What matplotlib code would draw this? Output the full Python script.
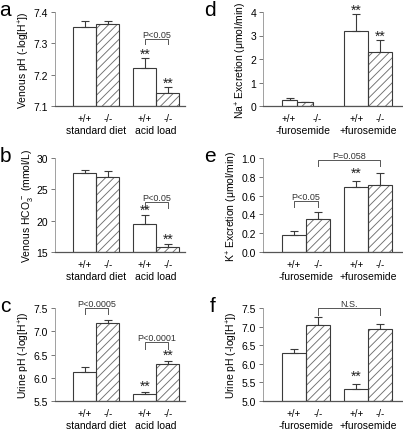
import numpy as np
import matplotlib
matplotlib.use("Agg")
import matplotlib.pyplot as plt

plt.rcParams["font.family"] = ["Liberation Sans", "DejaVu Sans"]
plt.rcParams["mathtext.fontset"] = "custom"
plt.rcParams["mathtext.rm"] = "Liberation Sans"
plt.rcParams["mathtext.it"] = "Liberation Sans:italic"
plt.rcParams["hatch.linewidth"] = 0.65

genotypes = ["+/+", "-/-", "+/+", "-/-"]
groups_diet = ["standard diet", "acid load"]
groups_furo = ["-furosemide", "+furosemide"]

# panel values: mean and upper error (SEM)
a_vals = [7.352, 7.362, 7.22, 7.14]
a_err = [0.019, 0.009, 0.032, 0.02]
b_vals = [27.65, 26.95, 19.5, 15.8]
b_err = [0.5, 0.9, 1.35, 0.5]
c_vals = [6.12, 7.18, 5.66, 6.30]
c_err = [0.11, 0.07, 0.03, 0.06]
d_vals = [0.25, 0.15, 3.21, 2.31]
d_err = [0.09, 0.03, 0.69, 0.48]
e_vals = [0.177, 0.348, 0.69, 0.71]
e_err = [0.05, 0.078, 0.065, 0.13]
f_vals = [6.30, 7.04, 5.33, 6.93]
f_err = [0.11, 0.21, 0.13, 0.15]

W, H = 403, 431
fig = plt.figure(figsize=(W / 100, H / 100), dpi=100)

def add_ax(x0, x1, y0, y1):
    return fig.add_axes([x0 / W, 1 - y1 / H, (x1 - x0) / W, (y1 - y0) / H])

pos = np.array([1.3, 2.3, 3.9, 4.9])
edge = "#3a3a3a"

def draw_panel(ax, vals, errs, ylim, yticks, fmt, ylabel, letter, groups,
               xmax, widths=None, centers=None, label_pos=None):
    base = ylim[0]
    xs = pos if centers is None else np.array(centers)
    ws = [1.0] * 4 if widths is None else widths
    lp = xs if label_pos is None else label_pos
    for i in range(4):
        h = vals[i] - base
        if i % 2 == 1:
            ax.bar(xs[i], h, ws[i], bottom=base, color="white", hatch="////",
                   edgecolor="#707070", linewidth=0, zorder=2)
        ax.bar(xs[i], h, ws[i], bottom=base, fill=False, edgecolor=edge,
               linewidth=0.8, zorder=3)
        ax.errorbar(xs[i], vals[i], yerr=[[0], [errs[i]]], fmt="none",
                    ecolor=edge, elinewidth=0.8, capsize=3, capthick=0.8,
                    zorder=1)
    ax.set_xlim(0, xmax)
    ax.set_ylim(*ylim)
    ax.set_yticks(yticks)
    ax.set_yticklabels([fmt.format(t) for t in yticks], fontsize=7.5)
    ax.set_xticks([])
    for s in ["top", "right"]:
        ax.spines[s].set_visible(False)
    ax.spines["left"].set_color("#a0a0a0")
    ax.spines["left"].set_linewidth(0.7)
    ax.spines["bottom"].set_color("#555555")
    ax.spines["bottom"].set_linewidth(0.9)
    ax.tick_params(axis="y", length=3, width=0.7, color="#777777", pad=2)
    ax.set_ylabel(ylabel, fontsize=7.5, labelpad=1)
    for i in range(4):
        ax.annotate(genotypes[i], (lp[i], 0), xycoords=("data", "axes fraction"),
                    xytext=(0, -5), textcoords="offset points",
                    ha="center", va="top", fontsize=7)
    for g, x in zip(groups, [(lp[0] + lp[1]) / 2, (lp[2] + lp[3]) / 2]):
        ax.annotate(g, (x, 0), xycoords=("data", "axes fraction"),
                    xytext=(0, -14), textcoords="offset points",
                    ha="center", va="top", fontsize=7.5)
    ax.text(-0.34, 1.03, letter, transform=ax.transAxes, fontsize=15,
            ha="right", va="center")
    return xs

def stars(ax, x, y):
    ax.text(x, y, "**", ha="center", va="bottom", fontsize=10, color="#222222")

def bracket(ax, x1, x2, ytop, yend, label):
    ax.plot([x1, x1, x2, x2], [yend, ytop, ytop, yend], color="#555555",
            lw=0.7, clip_on=False)
    ax.text((x1 + x2) / 2, ytop, label, ha="center", va="bottom",
            fontsize=6.5, color="#333333")

ax_a = add_ax(55, 185, 13, 107)
xs = draw_panel(ax_a, a_vals, a_err, (7.1, 7.4), [7.1, 7.2, 7.3, 7.4], "{:.1f}",
                "Venous pH (-log[H$^{+}$])", "a", groups_diet, 5.65)
stars(ax_a, xs[2], 7.245)
stars(ax_a, xs[3], 7.153)
bracket(ax_a, xs[2], xs[3], 7.314, 7.298, "P<0.05")

ax_b = add_ax(55, 185, 159, 253)
xs = draw_panel(ax_b, b_vals, b_err, (15, 30), [15, 20, 25, 30], "{:.0f}",
                "Venous HCO$_3^{\\,-}$ (mmol/L)", "b", groups_diet, 5.65)
stars(ax_b, xs[2], 20.6)
stars(ax_b, xs[3], 16.0)
bracket(ax_b, xs[2], xs[3], 22.9, 22.0, "P<0.05")

ax_c = add_ax(55, 185, 309, 402)
xs = draw_panel(ax_c, c_vals, c_err, (5.5, 7.5), [5.5, 6.0, 6.5, 7.0, 7.5], "{:.1f}",
                "Urine pH (-log[H$^{+}$])", "c", groups_diet, 5.65)
stars(ax_c, xs[2], 5.68)
stars(ax_c, xs[3], 6.34)
bracket(ax_c, xs[0], xs[1], 7.51, 7.37, "P<0.0005")
bracket(ax_c, xs[2], xs[3], 6.76, 6.61, "P<0.0001")

ax_d = add_ax(263, 403, 13, 107)
xs = draw_panel(ax_d, d_vals, d_err, (0, 4), [0, 1, 2, 3, 4], "{:.0f}",
                "Na$^{+}$ Excretion (\u03bcmol/min)", "d", groups_furo, 5.85,
                widths=[0.65, 0.65, 1.0, 1.0], centers=[1.11, 1.76, 3.9, 4.9],
                label_pos=[1.09, 2.26, 3.9, 4.9])
stars(ax_d, xs[2], 3.8)
stars(ax_d, xs[3], 2.7)

ax_e = add_ax(263, 403, 159, 253)
xs = draw_panel(ax_e, e_vals, e_err, (0, 1.0), [0, 0.2, 0.4, 0.6, 0.8, 1.0], "{:.1f}",
                "K$^{+}$ Excretion (\u03bcmol/min)", "e", groups_furo, 5.85)
stars(ax_e, xs[2], 0.77)
bracket(ax_e, xs[0], xs[1], 0.54, 0.48, "P<0.05")
bracket(ax_e, xs[1], xs[3], 0.975, 0.92, "P=0.058")

ax_f = add_ax(263, 403, 309, 402)
xs = draw_panel(ax_f, f_vals, f_err, (5.0, 7.5), [5.0, 5.5, 6.0, 6.5, 7.0, 7.5], "{:.1f}",
                "Urine pH (-log[H$^{+}$])", "f", groups_furo, 5.85)
stars(ax_f, xs[2], 5.48)
bracket(ax_f, xs[1], xs[3], 7.5, 7.32, "N.S.")

fig.savefig("out.png", dpi=100)
